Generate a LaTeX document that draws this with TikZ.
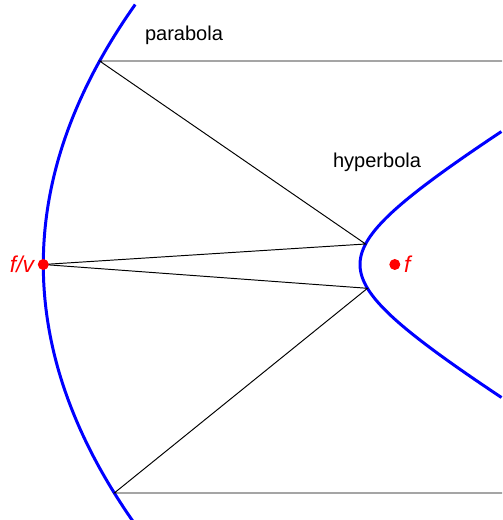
\documentclass[tikz,border=0pt]{standalone}
\usepackage{fontspec}
\setmainfont{Liberation Sans}
\usepackage{tikz}
\usetikzlibrary{calc, positioning}

\tikzset{
    mirror/.style={blue, line width=1.7pt},
    ray/.style={black, line width=0.55pt},
    lbl/.style={font=\fontsize{11.4}{13}\selectfont},
    focuslbl/.style={red, font=\fontsize{13}{15}\selectfont\itshape}
}

\begin{document}
\begin{tikzpicture}
    \useasboundingbox (-0.866,-5.11) rectangle (9.174,5.29);
    % 1. Gương parabol và hyperbol
    \draw[mirror, samples=100, domain=-5.2:5.2]
        plot ({0.068*\x*\x}, \x);
    \draw[mirror, samples=100, domain=-2.66:2.66]
        plot ({4.334+2*sqrt(1+(\x/1.21)*(\x/1.21))}, \x);
    
    % 2. Các điểm
    \coordinate (fv) at (0,0);
    \coordinate (f) at (7.03,0);
    \coordinate (ptop) at ({0.068*4.07*4.07},4.07);
    \coordinate (pbot) at ({0.068*4.57*4.57},-4.57);
    \coordinate (htop) at ({4.334+2*sqrt(1+(0.41/1.21)*(0.41/1.21))},0.41);
    \coordinate (hbot) at ({4.334+2*sqrt(1+(0.476/1.21)*(0.476/1.21))},-0.476);
    \coordinate (intop) at (9.174,4.07);
    \coordinate (inbot) at (9.174,-4.57);
    
    % 3. Các tia
    \draw[ray] (intop) -- (ptop) -- (htop) -- (fv);
    \draw[ray] (inbot) -- (pbot) -- (hbot) -- (fv);
    
    % 4. Nhãn
    \node[lbl] (parab) at (2.814,4.59) {parabola};
    \node[lbl] (hyperb) at (6.674,2.05) {hyperbola};
    \fill[red] (fv) circle (0.11);
    \fill[red] (f) circle (0.11);
    \node[focuslbl, left=0.06 of fv] (fvlbl) {f/v};
    \node[focuslbl, right=0.06 of f] (flbl) {f};
\end{tikzpicture}
\end{document}
